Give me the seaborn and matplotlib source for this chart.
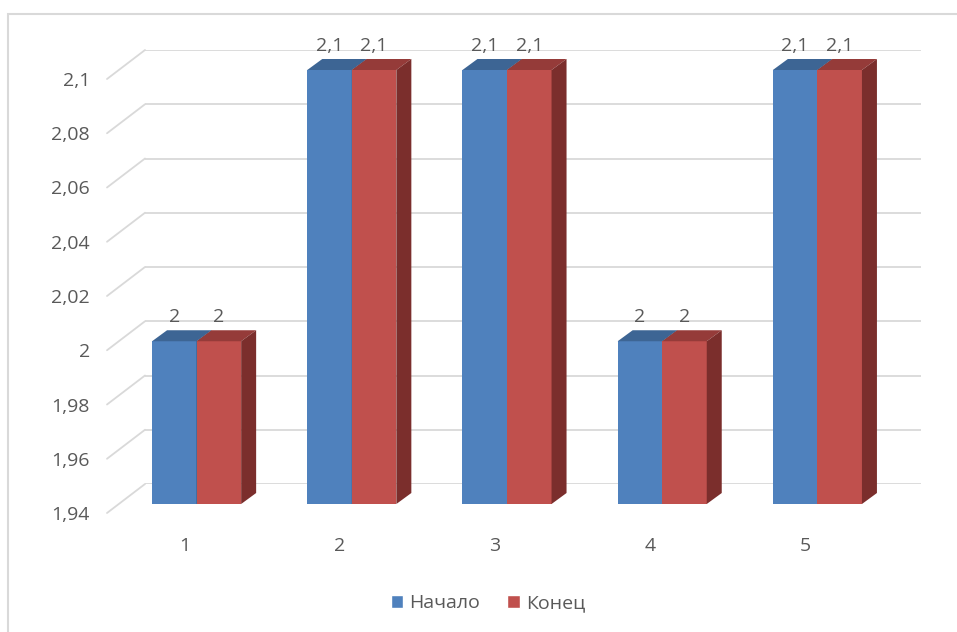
import pandas as pd
import matplotlib
matplotlib.use("Agg")
import matplotlib.pyplot as plt
import matplotlib.transforms as mtransforms
from matplotlib.patches import Polygon, Patch, Rectangle
import seaborn as sns

# данные
categories = ["1", "2", "3", "4", "5"]
series_names = ["Начало", "Конец"]
start_values = [2.0, 2.1, 2.1, 2.0, 2.1]
end_values = [2.0, 2.1, 2.1, 2.0, 2.1]
y_ticks = [1.94, 1.96, 1.98, 2.0, 2.02, 2.04, 2.06, 2.08, 2.1]

front_colors = ["#4F81BD", "#C0504D"]
top_colors = ["#3D6594", "#953B39"]
side_colors = ["#2F4F75", "#7B2E2C"]
grid_color = "#D9D9D9"
text_color = "#595959"

df = pd.DataFrame({
    "Категория": categories * 2,
    "Серия": [series_names[0]] * len(categories) + [series_names[1]] * len(categories),
    "Значение": start_values + end_values,
})

sns.set_theme(style="white")
plt.rcParams["font.family"] = ["Open Sans", "DejaVu Sans"]
fs = 14

W, H = 957, 632
fig = plt.figure(figsize=(W / 100, H / 100), dpi=100)
# оси = задняя стенка 3D-диаграммы
ax = fig.add_axes([145 / W, 1 - 484 / H, 776 / W, 434 / H])

sns.barplot(data=df, x="Категория", y="Значение", hue="Серия",
            palette=front_colors, saturation=1, width=0.574, gap=0,
            linewidth=0, legend=False, ax=ax)

y_min, y_max = y_ticks[0], y_ticks[-1]
ax.set_xlim(-0.5, len(categories) - 0.5)
ax.set_ylim(y_min, y_max)
ax.set_yticks(y_ticks)
ax.set_yticklabels([f"{v:g}".replace(".", ",") for v in y_ticks])
ax.set_xlabel("")
ax.set_ylabel("")
for s in ax.spines.values():
    s.set_visible(False)
ax.yaxis.grid(True, color=grid_color, lw=1.3)
ax.xaxis.grid(False)
ax.set_axisbelow(True)

# пиксели -> единицы данных
px_x = 776 / len(categories)
px_y = 434 / (y_max - y_min)

# смещения: передняя грань столбцов и глубина столбцов
fdx, fdy = -26 / px_x, -20 / px_y
ddx, ddy = 15 / px_x, 11 / px_y

n = len(categories)
for i, p in enumerate(list(ax.patches)):
    lvl = i // n
    x0 = p.get_x() + fdx
    w = p.get_width()
    x1 = x0 + w
    top = p.get_height() + fdy
    base = y_min + fdy
    p.set_x(x0)
    p.set_y(base)
    p.set_height(top - base)
    p.set_clip_on(False)
    p.set_zorder(2 + lvl)
    ax.add_patch(Polygon([(x0, top), (x1, top), (x1 + ddx, top + ddy), (x0 + ddx, top + ddy)],
                         closed=True, facecolor=top_colors[lvl], lw=0, clip_on=False, zorder=2 + lvl))
    ax.add_patch(Polygon([(x1, base), (x1, top), (x1 + ddx, top + ddy), (x1 + ddx, base + ddy)],
                         closed=True, facecolor=side_colors[lvl], lw=0, clip_on=False, zorder=2 + lvl))
    val = p.get_height() + base - fdy
    ax.annotate(f"{val:g}".replace(".", ","), (x0 + w / 2, top), xytext=(0, 24),
                textcoords="offset pixels", ha="center", va="center",
                fontsize=fs, color=text_color, zorder=5)

# диагональные линии сетки слева
for t in y_ticks:
    ax.plot([-0.5, -0.5 - 38 / px_x], [t, t - 29 / px_y], color=grid_color, lw=1.3,
            clip_on=False, zorder=0)

ax.tick_params(axis="y", length=0, pad=12.2, labelsize=fs, labelcolor=text_color)
ax.tick_params(axis="x", length=0, pad=17, labelsize=fs, labelcolor=text_color)
shift = mtransforms.ScaledTranslation(-38 / 100, -29 / 100, fig.dpi_scale_trans)
for lbl in ax.get_yticklabels() + ax.get_xticklabels():
    lbl.set_transform(lbl.get_transform() + shift)

handles = [Patch(facecolor=c, label=s) for c, s in zip(front_colors, series_names)]
fig.legend(handles=handles, loc="center", bbox_to_anchor=(488 / W, 1 - 603 / H), ncol=2,
           frameon=False, handlelength=0.65, handleheight=0.65, handletextpad=0.3,
           columnspacing=1.4, fontsize=fs, labelcolor=text_color)

fig.patches.append(Rectangle((8 / W, -0.1), 2, 1 - 14 / H + 0.1, transform=fig.transFigure,
                             fill=False, edgecolor=grid_color, lw=1.5))

fig.savefig("out.png", dpi=100)
